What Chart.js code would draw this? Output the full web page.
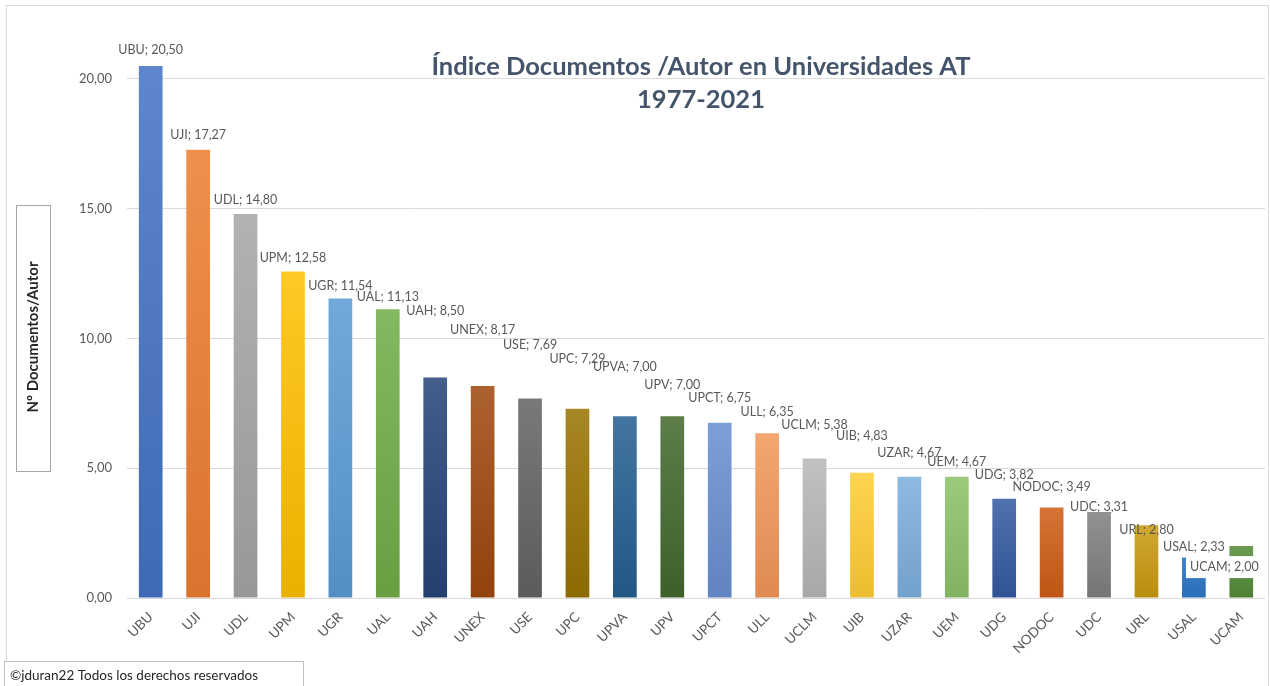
<!DOCTYPE html>
<html>
<head>
<meta charset="utf-8">
<script src="https://cdn.jsdelivr.net/npm/chart.js@4.4.0/dist/chart.umd.min.js"></script>
<style>
  html, body { margin: 0; padding: 0; background: #fff; }
  canvas { display: block; }
</style>
</head>
<body>
<canvas id="chart" width="1270" height="686"></canvas>
<script>
// datos
const universidades = ["UBU", "UJI", "UDL", "UPM", "UGR", "UAL", "UAH", "UNEX", "USE", "UPC", "UPVA", "UPV",
  "UPCT", "ULL", "UCLM", "UIB", "UZAR", "UEM", "UDG", "NODOC", "UDC", "URL", "USAL", "UCAM"];
const indice = [20.50, 17.27, 14.80, 12.58, 11.54, 11.13, 8.50, 8.17, 7.69, 7.29, 7.00, 7.00,
  6.75, 6.35, 5.38, 4.83, 4.67, 4.67, 3.82, 3.49, 3.31, 2.80, 2.33, 2.00];
const yTicks = [0, 5, 10, 15, 20];

const coloresBarra = ["#4472C4", "#ED7D31", "#A5A5A5", "#FFC000", "#5B9BD5", "#70AD47", "#264478", "#9E480E",
  "#636363", "#997300", "#255E91", "#43682B", "#698ED0", "#F1975A", "#B7B7B7", "#FFCD33", "#7CAFDD", "#8CC168",
  "#335AA1", "#CF5C16", "#7F7F7F", "#C99A10", "#2E78C8", "#538B35"];

// colocacion manual de las etiquetas (px sobre el extremo de la barra)
const etiquetaAltura = [16, 15, 14, 14, 13, 12, 66, 56, 53, 50, 49, 31, 25, 21, 33, 37, 24, 15, 24, 20, 5, -5, -9, -21];
const etiquetaDx = [0, 0, 0, 0, 0, 0, 0, 0, 0, 0, 0, 0, 0, 0, 0, 0, 0, 0, 0, 0, 0, 0, 0, -17];
const etiquetaFondo = [0, 0, 0, 0, 0, 0, 0, 0, 0, 0, 0, 0, 0, 0, 0, 0, 0, 0, 0, 0, 0, 0, 1, 1];

const FUENTE = "Lato, 'Open Sans', sans-serif";
const GRIS = "#595959";

const fmt = v => v.toFixed(2).replace(".", ",");

function shade(hex, amt) {
  const n = parseInt(hex.slice(1), 16);
  const t = amt < 0 ? 0 : 255, p = Math.abs(amt);
  const c = [n >> 16, (n >> 8) & 255, n & 255].map(x => Math.round(x + (t - x) * p));
  return `rgb(${c[0]},${c[1]},${c[2]})`;
}

function colorBarra(ctx) {
  const base = coloresBarra[ctx.dataIndex];
  const y = ctx.chart.scales.y;
  if (ctx.type !== "data" || !y) return base;
  const top = y.getPixelForValue(indice[ctx.dataIndex]);
  const bottom = y.getPixelForValue(0);
  if (!isFinite(top) || !isFinite(bottom) || top === bottom) return base;
  const g = ctx.chart.ctx.createLinearGradient(0, top, 0, bottom);
  g.addColorStop(0, shade(base, 0.14));
  g.addColorStop(1, shade(base, -0.08));
  return g;
}

const etiquetas = {
  id: "etiquetas",
  afterDatasetsDraw(chart) {
    const ctx = chart.ctx;
    const meta = chart.getDatasetMeta(0);
    ctx.save();
    ctx.font = "12.5px " + FUENTE;
    ctx.textAlign = "center";
    ctx.textBaseline = "middle";
    meta.data.forEach((bar, i) => {
      const txt = universidades[i] + "; " + fmt(indice[i]);
      const x = bar.x + etiquetaDx[i];
      const y = bar.y - etiquetaAltura[i];
      if (etiquetaFondo[i]) {
        const w = ctx.measureText(txt).width + 8;
        ctx.fillStyle = "#fff";
        ctx.fillRect(x - w / 2, y - 11, w, 22);
      }
      ctx.fillStyle = GRIS;
      ctx.fillText(txt, x, y);
    });
    ctx.restore();
  }
};

const decoracion = {
  id: "decoracion",
  beforeDraw(chart) {
    const ctx = chart.ctx;
    ctx.save();
    ctx.fillStyle = "#fff";
    ctx.fillRect(0, 0, chart.width, chart.height);
    ctx.strokeStyle = "#D9D9D9";
    ctx.lineWidth = 1;
    ctx.strokeRect(6.5, 5.5, 1262, 700);
    ctx.restore();
  },
  afterDraw(chart) {
    const ctx = chart.ctx;
    ctx.save();
    // titulo
    ctx.fillStyle = "#44546A";
    ctx.font = "bold 25.5px " + FUENTE;
    ctx.textAlign = "center";
    ctx.textBaseline = "middle";
    ctx.fillText("Índice Documentos /Autor en Universidades AT", 701, 67);
    ctx.fillText("1977-2021", 701, 100);

    // titulo del eje y en su cuadro
    ctx.fillStyle = "#fff";
    ctx.fillRect(16.5, 205.5, 34, 266);
    ctx.strokeStyle = "#A6A6A6";
    ctx.strokeRect(16.5, 205.5, 34, 266);
    ctx.translate(33.5, 337);
    ctx.rotate(-Math.PI / 2);
    ctx.fillStyle = "#262626";
    ctx.font = "bold 15px " + FUENTE;
    ctx.fillText("Nº Documentos/Autor", 0, 0);
    ctx.setTransform(1, 0, 0, 1, 0, 0);

    // pie
    ctx.fillStyle = "#fff";
    ctx.fillRect(4.5, 661.5, 299, 30);
    ctx.strokeStyle = "#BFBFBF";
    ctx.strokeRect(4.5, 661.5, 299, 30);
    ctx.fillStyle = "#262626";
    ctx.font = "13.5px " + FUENTE;
    ctx.textAlign = "left";
    ctx.fillText("©jduran22 Todos los derechos reservados", 10, 676);
    ctx.restore();
  }
};

new Chart(document.getElementById("chart"), {
  type: "bar",
  data: {
    labels: universidades,
    datasets: [{
      data: indice,
      backgroundColor: colorBarra,
      borderWidth: 0,
      categoryPercentage: 1,
      barPercentage: 0.5
    }]
  },
  options: {
    responsive: false,
    animation: false,
    layout: { padding: { top: 53, right: 5, left: 0, bottom: 0 } },
    plugins: {
      legend: { display: false },
      tooltip: { enabled: false }
    },
    scales: {
      x: {
        grid: { display: false },
        border: { display: false },
        ticks: {
          color: GRIS,
          font: { family: FUENTE, size: 13.5 },
          minRotation: 45,
          maxRotation: 45,
          autoSkip: false,
          padding: 3
        },
        afterFit(scale) { scale.height = 88; }
      },
      y: {
        min: 0,
        max: 21,
        afterBuildTicks(scale) { scale.ticks = yTicks.map(v => ({ value: v })); },
        ticks: {
          color: GRIS,
          font: { family: FUENTE, size: 13 },
          padding: 15,
          callback: v => fmt(v)
        },
        grid: { color: "#D9D9D9", drawTicks: false },
        border: { display: false },
        afterFit(scale) { scale.width = 127; }
      }
    }
  },
  plugins: [etiquetas, decoracion]
});
</script>
</body>
</html>
